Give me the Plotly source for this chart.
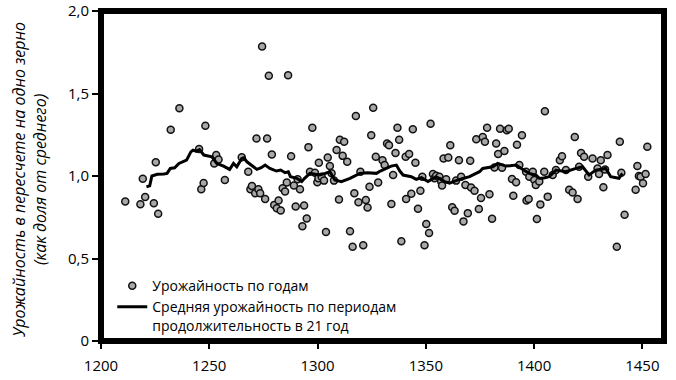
import plotly.graph_objects as go

# Yearly yields (year, share of mean)
years = [1211.2, 1218.2, 1219.3, 1220.4, 1224.4, 1225.3, 1226.4, 1232.2, 1236.2, 1245.3,
         1246.3, 1247.4, 1248.2, 1252.3, 1253.2, 1254.3, 1257.2, 1265.0, 1268.0, 1269.0,
         1269.7, 1271.2, 1271.8, 1272.7, 1273.5, 1274.4, 1275.8, 1276.7, 1277.5, 1278.9,
         1280.0, 1281.2, 1282.0, 1283.0, 1283.9, 1285.0, 1285.8, 1286.4, 1287.8, 1289.1,
         1289.9, 1290.8, 1291.9, 1293.0, 1293.8, 1295.0, 1295.8, 1296.5, 1297.6, 1298.8,
         1299.9, 1300.4, 1300.6, 1301.9, 1303.0, 1303.9, 1304.7, 1305.7, 1306.5, 1307.6,
         1308.8, 1309.9, 1310.3, 1311.6, 1312.3, 1313.7, 1315.0, 1316.2, 1317.0, 1317.7,
         1318.9, 1319.8, 1321.1, 1322.3, 1323.1, 1324.0, 1324.8, 1325.7, 1326.9, 1328.0,
         1330.0, 1331.0, 1332.1, 1333.0, 1334.1, 1334.9, 1336.0, 1336.9, 1337.7, 1338.7,
         1340.7, 1340.9, 1342.3, 1343.3, 1344.0, 1345.2, 1346.4, 1347.5, 1348.4, 1349.4,
         1350.2, 1351.5, 1352.2, 1353.3, 1354.0, 1354.8, 1356.3, 1357.1, 1357.5, 1358.2,
         1359.4, 1360.4, 1361.3, 1362.2, 1363.3, 1364.0, 1365.3, 1366.3, 1367.4, 1368.3,
         1369.4, 1370.5, 1370.9, 1372.5, 1373.3, 1374.5, 1375.5, 1376.3, 1377.3, 1378.3,
         1379.4, 1380.6, 1381.7, 1382.5, 1383.4, 1384.3, 1385.2, 1386.3, 1387.4, 1388.3,
         1389.8, 1390.4, 1391.7, 1392.1, 1393.2, 1394.4, 1396.3, 1396.5, 1397.5, 1397.8,
         1399.4, 1400.1, 1400.8, 1401.3, 1402.4, 1402.9, 1404.7, 1405.0, 1406.3, 1408.6,
         1410.1, 1411.9, 1412.9, 1414.7, 1416.2, 1417.8, 1418.8, 1420.1, 1420.8, 1421.7,
         1423.1, 1425.0, 1427.0, 1429.3, 1430.0, 1430.8, 1432.0, 1432.8, 1433.9, 1438.2,
         1439.6, 1440.3, 1441.8, 1446.9, 1447.7, 1448.4, 1449.2, 1450.3, 1451.5, 1452.3]
yields = [0.845, 0.829, 0.983, 0.873, 0.835, 1.083, 0.771, 1.280, 1.410, 1.163,
          0.920, 0.958, 1.305, 1.076, 1.127, 1.100, 0.976, 1.114, 1.026, 0.920,
          0.940, 0.896, 1.227, 0.920, 0.896, 1.785, 0.860, 1.227, 1.608, 1.130,
          0.825, 0.805, 0.851, 0.791, 0.926, 0.906, 0.960, 1.610, 1.120, 0.942,
          0.815, 0.980, 0.920, 0.695, 0.821, 0.743, 1.175, 1.026, 1.293, 1.020,
          0.962, 0.986, 1.080, 0.996, 0.972, 0.660, 1.112, 1.060, 1.016, 0.972,
          1.157, 0.857, 1.220, 1.122, 1.207, 1.086, 0.665, 0.571, 0.896, 1.363,
          0.841, 1.026, 0.580, 0.855, 0.809, 0.935, 1.247, 1.414, 1.116, 0.960,
          1.096, 1.066, 1.197, 1.187, 0.831, 1.006, 1.140, 1.293, 1.220, 0.604,
          1.116, 0.861, 1.133, 0.892, 1.283, 1.080, 0.801, 0.910, 0.996, 0.580,
          0.709, 0.655, 1.317, 1.012, 0.986, 1.002, 0.996, 0.966, 0.942, 1.106,
          0.980, 1.112, 1.187, 0.811, 0.789, 0.972, 1.096, 0.996, 0.725, 0.946,
          0.775, 1.092, 0.930, 0.911, 1.223, 0.800, 0.866, 1.237, 1.207, 1.293,
          0.890, 0.741, 1.052, 1.197, 1.133, 1.287, 1.050, 1.152, 1.277, 1.287,
          0.982, 0.880, 0.962, 1.190, 1.066, 1.247, 1.026, 0.851, 0.860, 0.996,
          1.026, 0.976, 0.946, 0.739, 0.966, 0.828, 1.026, 1.393, 0.875, 1.006,
          1.036, 1.096, 1.120, 1.036, 0.916, 0.900, 1.237, 0.860, 1.056, 1.140,
          1.116, 0.996, 1.106, 1.046, 1.012, 1.096, 0.932, 1.040, 1.127, 0.571,
          1.207, 1.020, 0.765, 0.916, 1.060, 1.000, 0.996, 0.956, 1.012, 1.177]

# 21-year moving average
ma_years = [1221.0, 1222.5, 1223.5, 1226.0, 1229.0, 1230.5, 1232.0, 1234.0, 1236.0, 1238.0,
            1239.5, 1241.5, 1242.5, 1244.0, 1245.5, 1247.5, 1249.5, 1251.2, 1253.5, 1256.6,
            1259.4, 1261.2, 1262.7, 1265.0, 1266.0, 1267.4, 1270.4, 1272.0, 1274.0, 1275.8,
            1278.0, 1281.0, 1283.0, 1285.0, 1286.5, 1287.5, 1290.4, 1292.7, 1294.0, 1296.5,
            1299.0, 1301.0, 1303.5, 1305.7, 1308.0, 1311.0, 1315.0, 1317.0, 1319.5, 1323.0,
            1327.2, 1329.0, 1331.8, 1334.0, 1336.4, 1338.0, 1339.5, 1343.3, 1345.6, 1348.0,
            1351.0, 1354.8, 1358.7, 1361.0, 1364.8, 1370.2, 1374.8, 1376.3, 1380.9, 1383.2,
            1387.1, 1391.7, 1394.8, 1397.8, 1400.9, 1402.4, 1404.0, 1407.0, 1410.1, 1414.7,
            1419.3, 1422.4, 1425.4, 1428.5, 1433.1, 1435.4, 1439.2, 1440.8]
ma_values = [0.935, 0.940, 1.000, 1.010, 1.012, 1.016, 1.046, 1.050, 1.076, 1.090,
             1.096, 1.146, 1.157, 1.150, 1.160, 1.127, 1.120, 1.116, 1.076, 1.060,
             1.040, 1.076, 1.056, 1.106, 1.110, 1.086, 1.056, 1.040, 1.050, 1.066,
             1.046, 1.030, 1.036, 1.020, 1.026, 0.996, 0.986, 0.966, 0.986, 1.016,
             1.010, 1.006, 1.016, 1.026, 0.976, 0.966, 0.986, 1.000, 1.016, 1.020,
             1.016, 1.030, 1.046, 1.060, 1.066, 1.030, 1.006, 0.996, 0.980, 0.990,
             0.966, 0.996, 0.966, 0.956, 0.976, 0.996, 1.026, 1.046, 1.056, 1.076,
             1.060, 1.066, 1.040, 1.016, 1.006, 0.986, 0.986, 0.996, 1.036, 1.026,
             1.046, 1.056, 1.006, 1.036, 1.046, 0.996, 0.986, 1.016]

x_ticks = [1200, 1250, 1300, 1350, 1400, 1450]
y_ticks = [0, 0.5, 1.0, 1.5, 2.0]
y_tick_labels = ["0", "0,5", "1,0", "1,5", "2,0"]

FONT = "Open Sans"

fig = go.Figure()
fig.add_trace(go.Scatter(
    x=years, y=yields, mode="markers", name="Урожайность по годам",
    marker=dict(symbol="circle", size=7, color="#a8a8a8",
                line=dict(color="#111111", width=1.5)),
))
fig.add_trace(go.Scatter(
    x=ma_years, y=ma_values, mode="lines",
    name="Средняя урожайность по периодам<br>продолжительность в 21 год",
    line=dict(color="black", width=3),
))

fig.update_layout(
    width=676, height=380,
    margin=dict(l=101, r=12, t=11, b=39, autoexpand=False),
    paper_bgcolor="white", plot_bgcolor="white",
    font=dict(family=FONT, size=15, color="black"),
    showlegend=True,
    legend=dict(x=0.02, y=0.215, xanchor="left", yanchor="top",
                bgcolor="rgba(0,0,0,0)", font=dict(family=FONT, size=14),
                tracegroupgap=0, valign="top"),
    xaxis=dict(range=[1200, 1460], tickvals=x_ticks, showgrid=False, zeroline=False,
               showline=False, automargin=False,
               ticks="outside", ticklen=7, tickwidth=2, tickcolor="black",
               ticklabelstandoff=4,
               tickfont=dict(family=FONT, size=15)),
    yaxis=dict(range=[0, 2], tickvals=y_ticks, ticktext=y_tick_labels,
               showgrid=False, zeroline=False, showline=False, automargin=False,
               ticks="outside", ticklen=8, tickwidth=2, tickcolor="black",
               tickfont=dict(family=FONT, size=15)),
    shapes=[dict(type="rect", xref="paper", yref="paper", x0=0, x1=1, y0=0, y1=1,
                 line=dict(color="black", width=6), layer="above")],
    annotations=[dict(
        text="<i>Урожайность в пересчете на одно зерно<br>(как доля от среднего)</i>",
        xref="paper", yref="paper", x=-0.127, y=0.49, xanchor="center", yanchor="middle",
        textangle=-90, showarrow=False, font=dict(family=FONT, size=16),
    )],
)

fig.write_html("out.html", config={"displayModeBar": False},
               post_script="document.body.style.margin='0';")
